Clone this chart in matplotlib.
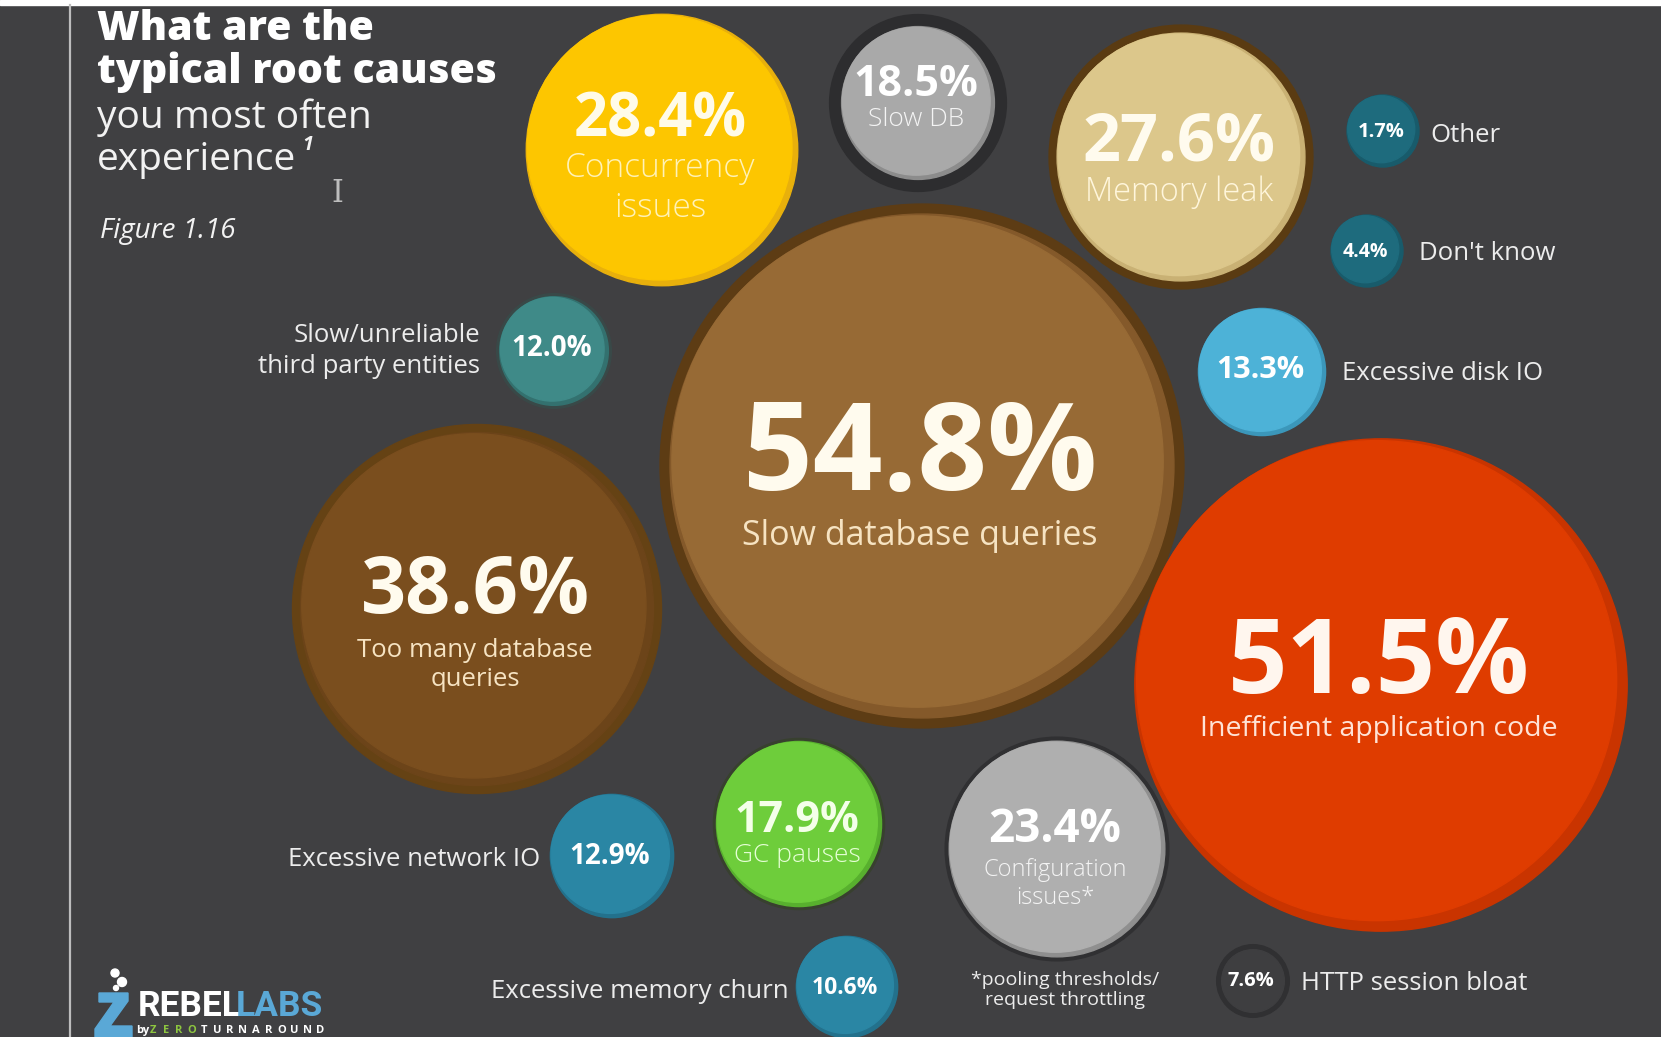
import matplotlib
matplotlib.use("Agg")
import matplotlib.pyplot as plt
from matplotlib.patches import Circle, Polygon, Rectangle
import numpy as np

plt.rcParams["font.family"] = ["Open Sans", "DejaVu Sans"]

# ---- data (survey: typical root causes of performance problems) ----
causes = ["Slow database queries", "Inefficient application code", "Too many database queries",
          "Concurrency issues", "Memory leak", "Configuration issues*", "Slow DB", "GC pauses",
          "Excessive disk IO", "Excessive network IO", "Slow/unreliable third party entities",
          "Excessive memory churn", "HTTP session bloat", "Don't know", "Other"]
shares = [54.8, 51.5, 38.6, 28.4, 27.6, 23.4, 18.5, 17.9, 13.3, 12.9, 12.0, 10.6, 7.6, 4.4, 1.7]
inner_text = ["Slow database queries", "Inefficient application code", "Too many database\nqueries",
              "Concurrency\nissues", "Memory leak", "Configuration\nissues*", "Slow DB", "GC pauses",
              "", "", "", "", "", "", ""]
outer_text = ["", "", "", "", "", "", "", "", "Excessive disk IO", "Excessive network IO",
              "Slow/unreliable\nthird party entities", "Excessive memory churn", "HTTP session bloat",
              "Don't know", "Other"]

# ---- layout (pixel canvas, y down) ----
centers = [(922, 466), (1381, 685), (477, 609), (662, 150), (1181, 157), (1057, 849), (918, 103),
           (799, 824), (1262, 372), (612, 856), (554, 351), (847, 987), (1253, 981), (1367, 251),
           (1383, 131)]
pct_y = [458, 666, 593, 121, 143, 829, 84, 820, 370, 857, 348, 988, 981, 252, 132]
sub_y = [536, 729, 665, 188, 192, 884, 120, 855, 0, 0, 0, 0, 0, 0, 0]
pct_size = [88, 75, 57, 43, 48, 33, 31, 31, 22, 20, 20, 16.5, 14.5, 14, 14.5]
sub_size = [24.5, 20.5, 18.5, 24, 23.5, 17, 19, 19, 0, 0, 0, 0, 0, 0, 0]
sub_weight = ["normal", "normal", "normal", "light", "light", "light", "light", "light"]
# (x, y, ha) of the side labels
outer_pos = [None] * 8 + [(1342, 373, "left"), (540, 859, "right"), (480, 351, "right"),
                          (789, 991, "right"), (1301, 984, "left"), (1419, 254, "left"),
                          (1430, 136, "left")]

# ---- styles: fill, shade crescent, ring colour, ring width, text colour ----
fills = ["#976a35", "#df3c00", "#7a4e1e", "#fdc600", "#dcc78b", "#afafaf", "#a9a9a9", "#6ecd3b",
         "#4db2d7", "#2a86a4", "#3f8a88", "#2a86a4", "#3e3e40", "#1e6b7d", "#1e6b7d"]
shades = ["#84592a", "#c93400", "#6c4419", "#e8b00c", "#c9b174", "#8f8f8f", "#8c8c8c", "#58b02e",
          "#3b97ba", "#23718c", "#33716f", "#23718c", "#3e3e40", "#185b6b", "#185b6b"]
rings = ["#5d3c14", None, "#654214", None, "#5a3b12", "#303032", "#2d2d2f", "#38402f",
         None, None, "#394948", None, "#303032", None, None]
ring_w = [10, 0, 8, 0, 8, 4, 12, 3, 0, 0, 3, 0, 5, 0, 0]
pct_col = ["#fffbee", "#fff6ee", "#fffbee", "#fffbe8", "#fffbee", "#ffffff", "#ffffff", "#f4ffe9",
           "#ffffff", "#ffffff", "#ffffff", "#ffffff", "#ffffff", "#ffffff", "#ffffff"]
sub_col = ["#f6e3c2", "#ffe3d6", "#f6e3c2", "#fff2b8", "#fff6dc", "#f4f4f4", "#f4f4f4", "#e6ffd6"]
BG = "#404042"

W, H = 1661, 1037
fig = plt.figure(figsize=(W / 100, H / 100), dpi=100, facecolor=BG)
ax = fig.add_axes([0, 0, 1, 1])
ax.set_xlim(0, W); ax.set_ylim(H, 0); ax.set_aspect("equal"); ax.axis("off")
ax.add_patch(Rectangle((0, 0), W, H, color=BG, zorder=0))
ax.add_patch(Rectangle((0, 0), W, 5, color="white", zorder=1))
ax.plot([70, 70], [5, H], color="#bdbdbd", lw=1.6, zorder=1)

# radius follows the share, with a floor for the tiny ones
radii = [max(4.78 * v, 36) for v in shares]
u = np.array([-1, -1]) / np.sqrt(2)
for i, (c, r) in enumerate(zip(centers, radii)):
    rr = r
    if rings[i]:
        ax.add_patch(Circle(c, rr, color=rings[i], zorder=2))
        rr -= ring_w[i]
    ax.add_patch(Circle(c, rr, color=shades[i], zorder=3))
    s = max(2.5, rr * 0.025)
    ax.add_patch(Circle(np.array(c) + s * u, rr - s, color=fills[i], zorder=4))
    ax.text(c[0] - 2, pct_y[i], f"{shares[i]:.1f}%", ha="center", va="center",
            fontsize=pct_size[i], fontweight="bold", color=pct_col[i], zorder=6)
    if inner_text[i]:
        ax.text(c[0] - 2, sub_y[i], inner_text[i], ha="center", va="center", linespacing=1.25,
                fontsize=sub_size[i], fontweight=sub_weight[i], color=sub_col[i], zorder=6)
    if outer_text[i]:
        x, y, ha = outer_pos[i]
        ax.text(x, y, outer_text[i], ha=ha, va="center", multialignment=ha, linespacing=1.3,
                fontsize=18.5, color="#ececec", zorder=6)

# ---- title block ----
ax.text(97, 40, "What are the", fontsize=29.5, fontweight="heavy", color="white", va="baseline")
ax.text(97, 83, "typical root causes", fontsize=29.5, fontweight="heavy", color="white",
        va="baseline")
ax.text(97, 128, "you most often", fontsize=28, color="#f2f2f2", va="baseline")
ax.text(97, 170, "experience", fontsize=28, color="#f2f2f2", va="baseline")
ax.text(302, 150, "1", fontsize=14, fontweight="bold", style="italic", color="#f2f2f2",
        va="baseline")
ax.text(100, 238, "Figure 1.16", fontsize=20, style="italic", color="#f2f2f2", va="baseline")
ax.text(337, 194, "I", fontsize=22, family="DejaVu Serif", color="#bdbdbd", ha="center",
        va="center", fontweight="light")

ax.text(1065, 990, "*pooling thresholds/\nrequest throttling", fontsize=14, color="#ececec",
        ha="center", va="center", linespacing=1.1)

# ---- logo ----
ax.add_patch(Polygon([(99, 993), (128, 993), (128, 1001), (110, 1026), (132, 1026), (132, 1037),
                      (95, 1037), (95, 1029), (114, 1002), (99, 1002)], color="#5aa8d6", zorder=5))
for (bx, by, br) in [(115, 973, 4), (122, 982, 4.5), (116, 988, 2.5)]:
    ax.add_patch(Circle((bx, by), br, color="white", zorder=5))
ax.text(138, 1023, "REBEL", fontsize=25.5, fontweight="bold", color="white", va="bottom",
        family="Roboto")
ax.text(236, 1023, "LABS", fontsize=25.5, fontweight="bold", color="#5aa8d6", va="bottom",
        family="Roboto")
ax.text(136, 1025, "by", fontsize=8, fontweight="bold", color="white", va="top")
tag = "ZEROTURNAROUND"
for k, (ch, xx) in enumerate(zip(tag, np.linspace(153, 320, len(tag)))):
    ax.text(xx, 1025, ch, fontsize=8, fontweight="bold", ha="center", va="top",
            color="#8dc63f" if k < 4 else "white")

fig.savefig("out.png", dpi=100, facecolor=BG)
